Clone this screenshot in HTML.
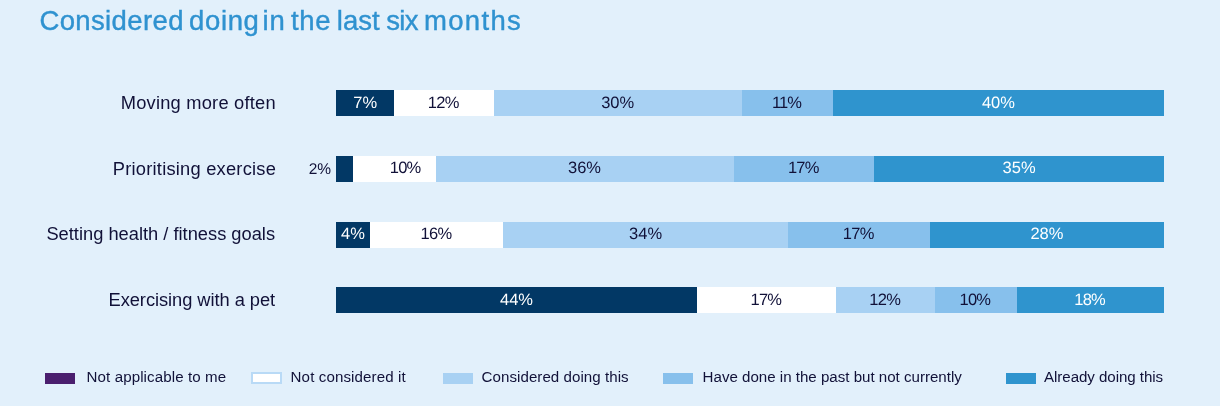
<!DOCTYPE html>
<html lang="en"><head><meta charset="utf-8"><title>Considered doing in the last six months</title>
<style>
html,body{margin:0;padding:0}
body{width:1220px;height:406px;background:#e2f0fb;position:relative;overflow:hidden;font-family:"Liberation Sans",Arial,sans-serif;color:#111138}
.t{position:absolute;white-space:nowrap;line-height:1}
.title{position:absolute;left:0;top:6.6px;font-size:27.5px;color:#2f92d0;-webkit-text-stroke:0.4px #2f92d0;line-height:1;white-space:nowrap}
.title span{position:absolute;top:0}
.lab{font-size:18.3px}
.seg{position:absolute;height:26.4px}
.pc{font-size:16.5px;transform:translateX(-50%);text-rendering:geometricPrecision}
.w{color:#fff}
.sw{position:absolute;top:373px;width:30px;height:11px}
.lg{top:368.8px;font-size:15.1px}
</style></head><body>
<div class="title"><span style="left:39.4px;letter-spacing:0.38px">Considered</span> <span style="left:189.0px;letter-spacing:0.65px">doing</span> <span style="left:262.5px;letter-spacing:1.0px">in</span> <span style="left:291.0px;letter-spacing:0.7px">the</span> <span style="left:336.8px;letter-spacing:0.0px">last</span> <span style="left:386.2px;letter-spacing:-0.66px">six</span> <span style="left:423.9px;letter-spacing:1.35px">months</span></div>

<div class="t lab" style="left:120.7px;top:93.81px;letter-spacing:0.22px">Moving more often</div>
<div class="seg" style="left:336.2px;top:90.0px;width:58.2px;background:#023865"></div>
<div class="t pc w" style="left:365.17px;top:95.0px">7%</div>
<div class="seg" style="left:394.1px;top:90.0px;width:99.6px;background:#ffffff"></div>
<div class="t pc" style="left:443.81px;top:95.0px;letter-spacing:-0.75px;margin-left:-0.6px">12%</div>
<div class="seg" style="left:493.5px;top:90.0px;width:248.6px;background:#a8d1f3"></div>
<div class="t pc" style="left:617.65px;top:95.0px">30%</div>
<div class="seg" style="left:741.8px;top:90.0px;width:91.4px;background:#87c0ec"></div>
<div class="t pc" style="left:787.35px;top:95.0px;letter-spacing:-1.0px;margin-left:-0.9px">11%</div>
<div class="seg" style="left:832.9px;top:90.0px;width:331.4px;background:#2f94ce"></div>
<div class="t pc w" style="left:998.44px;top:95.0px">40%</div>
<div class="t lab" style="left:112.8px;top:159.51px;letter-spacing:0.23px">Prioritising exercise</div>
<div class="seg" style="left:336.2px;top:155.7px;width:16.9px;background:#023865"></div>
<div class="t pc" style="left:319.90px;top:161.7px;font-size:15.5px">2%</div>
<div class="seg" style="left:352.8px;top:155.7px;width:83.1px;background:#ffffff"></div>
<div class="t pc" style="left:405.75px;top:160.1px;letter-spacing:-0.75px;margin-left:-0.6px">10%</div>
<div class="seg" style="left:435.5px;top:155.7px;width:298.3px;background:#a8d1f3"></div>
<div class="t pc" style="left:584.54px;top:160.1px">36%</div>
<div class="seg" style="left:733.5px;top:155.7px;width:141.0px;background:#87c0ec"></div>
<div class="t pc" style="left:803.91px;top:160.1px;letter-spacing:-0.75px;margin-left:-0.6px">17%</div>
<div class="seg" style="left:874.3px;top:155.7px;width:290.0px;background:#2f94ce"></div>
<div class="t pc w" style="left:1019.13px;top:160.1px">35%</div>
<div class="t lab" style="left:46.4px;top:225.31px;letter-spacing:0.0px">Setting health / fitness goals</div>
<div class="seg" style="left:336.2px;top:221.5px;width:33.7px;background:#023865"></div>
<div class="t pc w" style="left:352.92px;top:226.4px">4%</div>
<div class="seg" style="left:369.6px;top:221.5px;width:134.1px;background:#ffffff"></div>
<div class="t pc" style="left:436.54px;top:226.4px;letter-spacing:-0.75px;margin-left:-0.6px">16%</div>
<div class="seg" style="left:503.4px;top:221.5px;width:284.6px;background:#a8d1f3"></div>
<div class="t pc" style="left:645.58px;top:226.4px">34%</div>
<div class="seg" style="left:787.7px;top:221.5px;width:142.4px;background:#87c0ec"></div>
<div class="t pc" style="left:858.80px;top:226.4px;letter-spacing:-0.75px;margin-left:-0.6px">17%</div>
<div class="seg" style="left:929.9px;top:221.5px;width:234.4px;background:#2f94ce"></div>
<div class="t pc w" style="left:1046.94px;top:226.4px">28%</div>
<div class="t lab" style="left:108.5px;top:290.91px;letter-spacing:-0.05px">Exercising with a pet</div>
<div class="seg" style="left:336.2px;top:287.1px;width:360.9px;background:#023865"></div>
<div class="t pc w" style="left:516.51px;top:292.1px">44%</div>
<div class="seg" style="left:696.8px;top:287.1px;width:139.6px;background:#ffffff"></div>
<div class="t pc" style="left:766.49px;top:292.1px;letter-spacing:-0.75px;margin-left:-0.6px">17%</div>
<div class="seg" style="left:836.2px;top:287.1px;width:98.7px;background:#a8d1f3"></div>
<div class="t pc" style="left:885.33px;top:292.1px;letter-spacing:-0.75px;margin-left:-0.6px">12%</div>
<div class="seg" style="left:934.5px;top:287.1px;width:82.3px;background:#87c0ec"></div>
<div class="t pc" style="left:975.49px;top:292.1px;letter-spacing:-0.75px;margin-left:-0.6px">10%</div>
<div class="seg" style="left:1016.5px;top:287.1px;width:147.8px;background:#2f94ce"></div>
<div class="t pc w" style="left:1090.24px;top:292.1px;letter-spacing:-0.75px;margin-left:-0.6px">18%</div>
<div class="sw" style="left:45px;background:#4a1f6e"></div>
<div class="t lg" style="left:86.6px;letter-spacing:0.1px">Not applicable to me</div>
<div class="sw" style="left:251px;top:372px;width:27px;height:8px;background:#fff;border:2px solid #b9daf6"></div>
<div class="t lg" style="left:290.6px;letter-spacing:0.12px">Not considered it</div>
<div class="sw" style="left:443px;background:#a8d1f3"></div>
<div class="t lg" style="left:481.6px;letter-spacing:0.05px">Considered doing this</div>
<div class="sw" style="left:663px;background:#87c0ec"></div>
<div class="t lg" style="left:702.6px;letter-spacing:0.0px">Have done in the past but not currently</div>
<div class="sw" style="left:1006px;background:#2f94ce"></div>
<div class="t lg" style="left:1044px;letter-spacing:-0.05px">Already doing this</div>
</body></html>
